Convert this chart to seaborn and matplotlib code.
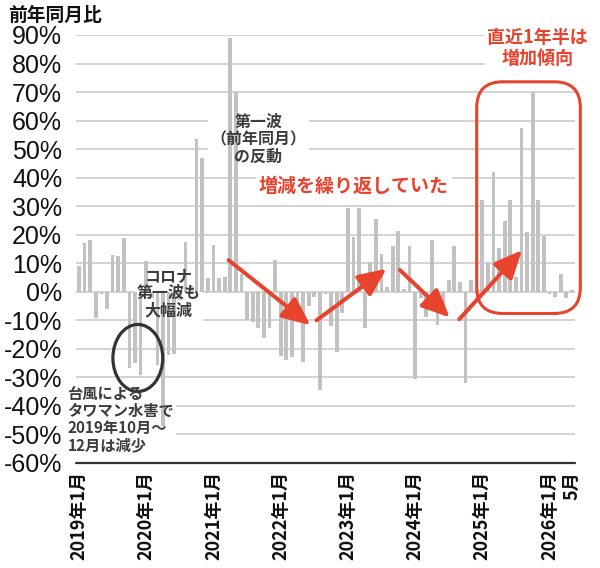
import numpy as np
import pandas as pd
import matplotlib
matplotlib.use("Agg")
import matplotlib.pyplot as plt
import seaborn as sns
from matplotlib.patches import FancyBboxPatch, Ellipse, FancyArrowPatch
from matplotlib.transforms import IdentityTransform

# ---- data (year-over-year change, %) ----
months = pd.period_range("2019-01", "2026-05", freq="M").strftime("%Y-%m").tolist()
yoy_2019 = [9, 17, 18, -9.3, -0.8, -6, 13, 12.6, 19, -26.7, -25, -29]
yoy_2020 = [10.8, -2, -25.6, -47, -22, -21.8, -3, 17.5, 2, 53.7, 47, 5]
yoy_2021 = [16.5, 4.7, 5.3, 89, 70, 6.4, -10, -10.5, -12.8, -16.3, -12.8, 11]
yoy_2022 = [-22.5, -24, -23, -8, -24.5, -5, -1.8, -34.4, -0.6, -12, -21, -7.4]
yoy_2023 = [29.5, 19.3, 29.5, -12.7, 10.3, 25.6, 13.1, 1.75, 16, 21.2, 1, 16.2]
yoy_2024 = [-30.5, -2, -9, 18.3, -11.8, -7.5, 4, 16, 3.3, -32, 4, 1]
yoy_2025 = [32.3, 10.2, 42, 15.5, 24.9, 32, 5.2, 57.5, 20.8, 70, 32, 19.6]
yoy_2026 = [-0.8, -1.75, 6.2, -2, 0.8]
yoy = yoy_2019 + yoy_2020 + yoy_2021 + yoy_2022 + yoy_2023 + yoy_2024 + yoy_2025 + yoy_2026

tick_months = ["2019-01", "2020-01", "2021-01", "2022-01", "2023-01",
               "2024-01", "2025-01", "2026-01", "2026-05"]
tick_labels = ["2019年1月", "2020年1月", "2021年1月", "2022年1月", "2023年1月",
               "2024年1月", "2025年1月", "2026年1月", "5月"]
y_ticks = list(range(-60, 91, 10))
y_tick_labels = [f"{v}%" for v in y_ticks]

RED = "#e8432d"
GRAY_TXT = "#3c3c3c"
BAR = "#c2c2c2"

sns.set_theme(style="white")
plt.rcParams['font.family'] = ['Noto Sans CJK JP', 'DejaVu Sans']

W, H = 600, 568
fig = plt.figure(figsize=(W / 100, H / 100), dpi=100)
ax = fig.add_axes([76 / W, 1 - 463 / H, (575 - 76) / W, (463 - 35) / H])

df = pd.DataFrame({"month": months, "yoy": yoy})
sns.barplot(data=df, x="month", y="yoy", color=BAR, saturation=1, width=0.66,
            linewidth=0, edgecolor='none', ax=ax, zorder=2)

ax.set_xlim(-0.54, len(months) - 0.45)
ax.set_ylim(-60, 90)
for v in y_ticks:
    if v != -60:
        ax.axhline(v, color="#c8c8c8", lw=1.1, zorder=0)
ax.axhline(-60, color="#333333", lw=1.6, zorder=3, clip_on=False)
for s in ax.spines.values():
    s.set_visible(False)
ax.grid(False)
ax.set_xlabel("")
ax.set_ylabel("")
ax.tick_params(length=0)
ax.set_yticks(y_ticks)
ax.set_yticklabels(y_tick_labels, fontsize=18, family=['Liberation Sans', 'DejaVu Sans'],
                   color="#111111")
ax.tick_params(axis='y', pad=10)
ax.set_xticks([months.index(m) for m in tick_months])
ax.set_xticklabels(tick_labels, rotation=90, fontsize=13, fontweight='bold', color="#111111")
ax.tick_params(axis='x', pad=6)

fig.text(8 / W, 1 - 15 / H, "前年同月比", fontsize=13.5, fontweight='bold',
         ha='left', va='center', color="#111111")


def label(x, y, s, color, size, weight, ha='center', va='center', ls=1.1, pad=1.5):
    # white backing box beneath the bars (hides gridlines), text on top
    ax.text(x, y, s, color='none', fontsize=size, fontweight=weight, ha=ha, va=va,
            linespacing=ls, zorder=1,
            bbox=dict(boxstyle=f"square,pad={pad / 10}", fc='white', ec='none'))
    ax.text(x, y, s, color=color, fontsize=size, fontweight=weight, ha=ha, va=va,
            linespacing=ls, zorder=5)


label(16.0, -0.5, "コロナ\n第一波も\n大幅減", GRAY_TXT, 11.5, 'bold')
label(-2.1, -44.8, "台風による\nタワマン水害で\n2019年10月～\n12月は減少", GRAY_TXT, 11, 'bold',
      ha='left')
label(32, 53.5, "第一波\n（前年同月）\nの反動", GRAY_TXT, 11.5, 'bold')
label(49.1, 37, "増減を繰り返していた", RED, 13.7, 'bold')
label(81.9, 85.5, "直近1年半は\n増加傾向", RED, 13, 'bold')

# ellipse around the typhoon dip
ax.add_patch(Ellipse((10.5, -23.2), 8.9, 23.5, fill=False, ec="#333333", lw=2.3,
                     zorder=4, clip_on=False))

# arrows
arrows = [((26.7, 11.1), (41.3, -11.7)),
          ((42.4, -10.0), (54.9, 8.1)),
          ((57.3, 7.6), (66.2, -9.0)),
          ((67.9, -9.6), (79.1, 14.6))]
for a, b in arrows:
    ax.add_patch(FancyArrowPatch(a, b, arrowstyle="-|>,head_length=0.85,head_width=0.38",
                                 mutation_scale=20, color=RED, lw=2.9, shrinkA=0, shrinkB=0,
                                 zorder=6, clip_on=False))

# rounded box around recent 1.5 years (drawn in pixel space for round corners)
fig.canvas.draw()
(x0, y0) = ax.transData.transform((71.0, -7.6))
(x1, y1) = ax.transData.transform((89.5, 73.6))
fig.add_artist(FancyBboxPatch((x0, y0), x1 - x0, y1 - y0,
                              boxstyle="round,pad=0,rounding_size=26",
                              transform=IdentityTransform(), fc='none', ec=RED, lw=2.2,
                              zorder=6))

fig.savefig("out.png", dpi=100)
